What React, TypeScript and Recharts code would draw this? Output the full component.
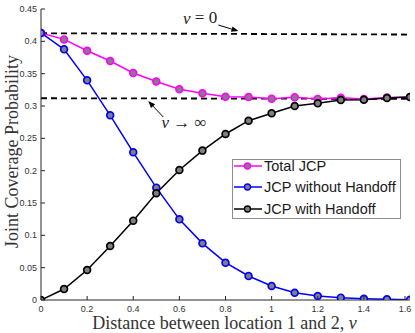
import { LineChart, Line, XAxis, YAxis, ReferenceLine, ReferenceDot, Legend } from 'recharts'

const distance = [0, 0.1, 0.2, 0.3, 0.4, 0.5, 0.6, 0.7, 0.8, 0.9, 1.0, 1.1, 1.2, 1.3, 1.4, 1.5, 1.6]
const totalJcp = [0.413, 0.403, 0.3855, 0.3696, 0.351, 0.338, 0.326, 0.3196, 0.3144, 0.314, 0.3113, 0.3134, 0.311, 0.3128, 0.311, 0.313, 0.314]
const withoutHandoff = [0.413, 0.3876, 0.3397, 0.2856, 0.2284, 0.1737, 0.1247, 0.0876, 0.0577, 0.0371, 0.0216, 0.0113, 0.0062, 0.0036, 0.002, 0.001, 0.0005]
const withHandoff = [0, 0.017, 0.0464, 0.0835, 0.1227, 0.165, 0.201, 0.231, 0.2567, 0.2773, 0.2887, 0.3, 0.3041, 0.3093, 0.3097, 0.3124, 0.314]

const xTicks = [0, 0.2, 0.4, 0.6, 0.8, 1, 1.2, 1.4, 1.6]
const yTicks = [0, 0.05, 0.1, 0.15, 0.2, 0.25, 0.3, 0.35, 0.4, 0.45]
const xLabels = ['0', '0.2', '0.4', '0.6', '0.8', '1', '1.2', '1.4', '1.6']
const yLabels = ['0', '0.05', '0.1', '0.15', '0.2', '0.25', '0.3', '0.35', '0.4', '0.45']
const legendOrder = ['Total JCP', 'JCP without Handoff', 'JCP with Handoff']

// asymptote levels at v = 0 and v -> infinity (left end, right end)
const vZeroLevel = [0.4125, 0.4105]
const vInfLevel = [0.312, 0.311]

const data = distance.map((v, i) => ({
  v,
  total: totalJcp[i],
  without: withoutHandoff[i],
  with: withHandoff[i],
}))

const tickFont = 'Liberation Sans, Arial, sans-serif'
const serif = 'Liberation Serif, serif'
const axisColor = '#262626'
const markerFill = '#808080'

function BottomTick({ x, y, index }: any) {
  return (
    <g>
      <line x1={x} y1={y} x2={x} y2={y - 4} stroke={axisColor} />
      <text x={x} y={y + 12} textAnchor="middle" fontSize={9} fill="#333" style={{ fontFamily: tickFont }}>
        {xLabels[index]}
      </text>
    </g>
  )
}

function LeftTick({ x, y, index }: any) {
  return (
    <g>
      <line x1={x} y1={y} x2={x + 4} y2={y} stroke={axisColor} />
      <text x={x - 4} y={y + 3} textAnchor="end" fontSize={9} fill="#333" style={{ fontFamily: tickFont }}>
        {yLabels[index]}
      </text>
    </g>
  )
}

function TopTick({ x, y }: any) {
  return <line x1={x} y1={y} x2={x} y2={y + 4} stroke={axisColor} />
}

function RightTick({ x, y }: any) {
  return <line x1={x} y1={y} x2={x - 4} y2={y} stroke={axisColor} />
}

function Arrow({ x1, y1, x2, y2 }: any) {
  const a = Math.atan2(y2 - y1, x2 - x1)
  const len = 7
  const w = 2.8
  const bx = x2 - len * Math.cos(a)
  const by = y2 - len * Math.sin(a)
  const px = -Math.sin(a) * w
  const py = Math.cos(a) * w
  return (
    <g>
      <line x1={x1} y1={y1} x2={bx} y2={by} stroke="#000" strokeWidth={1} />
      <polygon points={`${x2},${y2} ${bx + px},${by + py} ${bx - px},${by - py}`} fill="#000" />
    </g>
  )
}

function VZeroText({ cx, cy }: any) {
  return (
    <text x={cx} y={cy} textAnchor="middle" dominantBaseline="central" fontSize={17} fill="#222" style={{ fontFamily: serif }}>
      <tspan fontStyle="italic">v</tspan> = 0
    </text>
  )
}

function VInfText({ cx, cy }: any) {
  return (
    <text x={cx} y={cy} textAnchor="middle" dominantBaseline="central" fontSize={17} fill="#222" style={{ fontFamily: serif }}>
      <tspan fontStyle="italic">v</tspan> → ∞
    </text>
  )
}

function XLabel({ viewBox }: any) {
  const { x, y, width } = viewBox
  return (
    <text x={x + width / 2 - 1} y={y + 23} textAnchor="middle" dominantBaseline="central" fontSize={18} fill="#333" style={{ fontFamily: serif }}>
      Distance between location 1 and 2, <tspan fontStyle="italic">v</tspan>
    </text>
  )
}

function YLabel({ viewBox }: any) {
  const { x, y, height } = viewBox
  const cx = x + 12
  const cy = y + height / 2 - 3
  return (
    <text x={cx} y={cy} transform={`rotate(-90, ${cx}, ${cy})`} textAnchor="middle" dominantBaseline="central" fontSize={18} fill="#333" style={{ fontFamily: serif }}>
      Joint Coverage Probability
    </text>
  )
}

function LegendBox({ payload }: any) {
  const items = [...(payload || [])].sort(
    (a: any, b: any) => legendOrder.indexOf(a.value) - legendOrder.indexOf(b.value),
  )
  return (
    <div
      style={{
        boxSizing: 'border-box',
        background: '#fff',
        border: '1px solid #8c8c8c',
        width: 169,
        height: 60,
        fontFamily: tickFont,
        fontSize: 14.5,
        color: '#1a1a1a',
      }}
    >
      <div style={{ marginTop: -5 }}>
        {items.map((p: any) => (
          <div key={p.value} style={{ display: 'flex', alignItems: 'center', height: 21.5, whiteSpace: 'nowrap' }}>
            <svg width={31} height={12} style={{ flex: 'none' }}>
              <line x1={1} y1={6} x2={29} y2={6} stroke={p.color} strokeWidth={1.5} />
              <circle cx={14.5} cy={6} r={3} fill={markerFill} stroke={p.color} strokeWidth={1.3} />
            </svg>
            <span>{p.value}</span>
          </div>
        ))}
      </div>
    </div>
  )
}

export default function App() {
  return (
    <div style={{ position: 'absolute', left: 0, top: 0, width: 415, height: 333, background: '#fff' }}>
      <LineChart width={415} height={333} data={data} margin={{ top: 9, right: 5, bottom: 0, left: 0 }}>
        <XAxis
          dataKey="v"
          type="number"
          domain={[0, 1.6]}
          ticks={xTicks}
          height={33}
          tickSize={0}
          tickMargin={0}
          tick={<BottomTick />}
          axisLine={{ stroke: axisColor }}
          label={<XLabel />}
          allowDataOverflow
        />
        <XAxis
          xAxisId="top"
          orientation="top"
          dataKey="v"
          type="number"
          domain={[0, 1.6]}
          ticks={xTicks}
          height={0}
          tickSize={0}
          tickMargin={0}
          tick={<TopTick />}
          axisLine={{ stroke: axisColor }}
        />
        <YAxis
          type="number"
          domain={[0, 0.45]}
          ticks={yTicks}
          width={41}
          tickSize={0}
          tickMargin={0}
          tick={<LeftTick />}
          axisLine={{ stroke: axisColor }}
          label={<YLabel />}
          allowDataOverflow
        />
        <YAxis
          yAxisId="right"
          orientation="right"
          type="number"
          domain={[0, 0.45]}
          ticks={yTicks}
          width={0}
          tickSize={0}
          tickMargin={0}
          tick={<RightTick />}
          axisLine={{ stroke: axisColor }}
        />
        <ReferenceLine
          segment={[{ x: 0, y: vZeroLevel[0] }, { x: 1.6, y: vZeroLevel[1] }]}
          stroke="#000"
          strokeWidth={1.8}
          strokeDasharray="6 4"
        />
        <ReferenceLine
          segment={[{ x: 0, y: vInfLevel[0] }, { x: 1.6, y: vInfLevel[1] }]}
          stroke="#000"
          strokeWidth={1.8}
          strokeDasharray="6 4"
        />
        <ReferenceLine segment={[{ x: 0.769, y: 0.4252 }, { x: 0.856, y: 0.4158 }]} shape={Arrow} />
        <ReferenceLine segment={[{ x: 0.53, y: 0.283 }, { x: 0.465, y: 0.3077 }]} shape={Arrow} />
        <ReferenceDot x={0.69} y={0.4362} r={0} shape={VZeroText} />
        <ReferenceDot x={0.62} y={0.275} r={0} shape={VInfText} />
        <Line
          dataKey="total"
          name="Total JCP"
          stroke="#ff00ff"
          strokeWidth={1.5}
          dot={{ r: 3.4, fill: markerFill, stroke: '#ff00ff', strokeWidth: 1.7 }}
          activeDot={false}
          isAnimationActive={false}
        />
        <Line
          dataKey="without"
          name="JCP without Handoff"
          stroke="#0000ff"
          strokeWidth={1.5}
          dot={{ r: 3.4, fill: markerFill, stroke: '#0000ff', strokeWidth: 1.7 }}
          activeDot={false}
          isAnimationActive={false}
        />
        <Line
          dataKey="with"
          name="JCP with Handoff"
          stroke="#000000"
          strokeWidth={1.5}
          dot={{ r: 3.4, fill: markerFill, stroke: '#000000', strokeWidth: 1.7 }}
          activeDot={false}
          isAnimationActive={false}
        />
        <Legend
          layout="horizontal"
          verticalAlign="middle"
          align="center"
          content={<LegendBox />}
          wrapperStyle={{ left: 232, top: 159, width: 169, height: 60 }}
        />
      </LineChart>
    </div>
  )
}
